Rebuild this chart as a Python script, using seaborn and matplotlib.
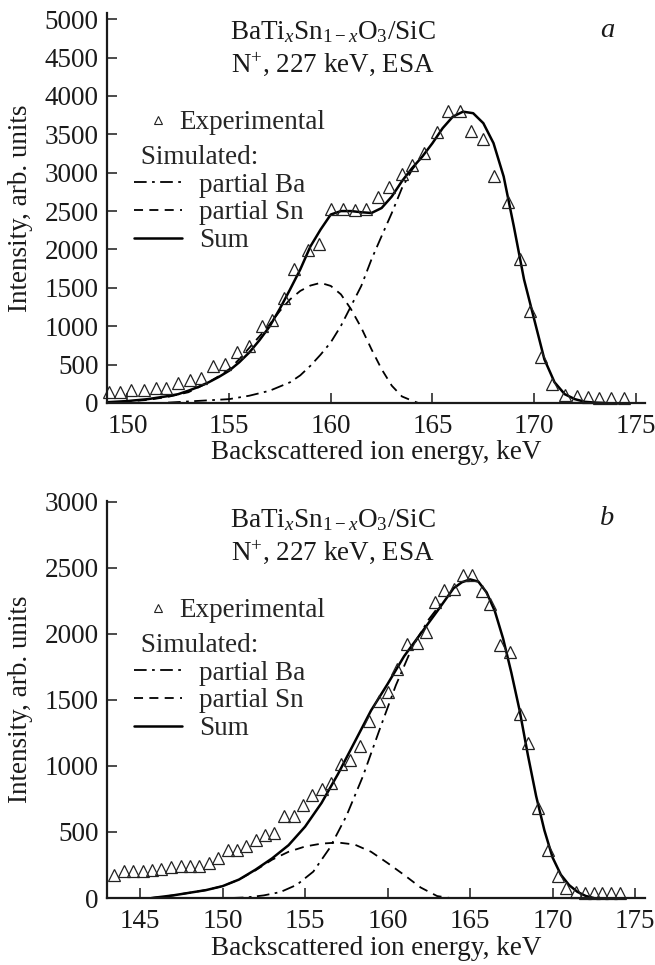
import numpy as np
import pandas as pd
import matplotlib
matplotlib.use("Agg")
import matplotlib.pyplot as plt
import seaborn as sns
from matplotlib.lines import Line2D

# ---- panel a: experimental points ----
exp_a_x = [149.1, 149.65, 150.2, 150.8, 151.4, 151.9, 152.5, 153.1, 153.6, 154.2,
           154.8, 155.4, 156.0, 156.6, 157.1, 157.7, 158.2, 158.9, 159.4, 160.0,
           160.6, 161.2, 161.75, 162.3, 162.85, 163.5, 164.0, 164.6, 165.2, 165.75,
           166.35, 166.9, 167.5, 168.0, 168.7, 169.3, 169.8, 170.35, 170.9, 171.5,
           172.1, 172.65, 173.2, 173.8, 174.4]
exp_a_y = [147, 139, 165, 173, 199, 199, 255, 303, 320, 485,
           506, 667, 745, 1004, 1082, 1372, 1749, 1991, 2065, 2528,
           2528, 2511, 2528, 2684, 2810, 2987, 3104, 3255, 3524, 3805,
           3805, 3537, 3437, 2952, 2615, 1870, 1199, 602, 247, 104,
           87, 74, 65, 65, 65]

# ---- panel a: simulated curves ----
sum_a_x = [149, 150, 151, 152, 152.5, 153, 153.5, 154, 154.5, 155, 155.5, 156, 156.5,
           157, 157.5, 158, 158.5, 159, 159.5, 160, 160.5, 161, 161.5, 162, 162.5,
           163, 163.5, 164, 164.5, 165, 165.5, 166, 166.5, 167, 167.5, 168, 168.5,
           169, 169.5, 170, 170.5, 171, 171.5, 172, 172.5, 173, 173.5]
sum_a_y = [10, 25, 50, 90, 115, 160, 210, 270, 340, 420, 530, 660, 820,
           1000, 1230, 1480, 1740, 2040, 2260, 2455, 2500, 2500, 2485, 2475, 2540,
           2690, 2890, 3060, 3210, 3385, 3580, 3730, 3795, 3775, 3645, 3385, 2950,
           2300, 1610, 1090, 570, 270, 115, 50, 15, 5, 0]

ba_a_x = [152, 153, 154, 155, 156, 157, 158, 158.5, 159, 159.5, 160, 160.5, 161,
          161.5, 162, 162.5, 163, 163.5, 164, 164.4]
ba_a_y = [5, 20, 35, 50, 95, 160, 270, 360, 485, 630, 790, 1005, 1265,
          1525, 1870, 2175, 2475, 2800, 3040, 3180]

sn_a_x = [149, 150, 151, 152, 153, 154, 154.5, 155, 155.5, 156, 156.5, 157, 157.5,
          158, 158.5, 159, 159.5, 160, 160.5, 161, 161.5, 162, 162.5, 163, 163.5,
          164, 164.3]
sn_a_y = [5, 20, 40, 80, 140, 270, 350, 440, 570, 720, 870, 1025, 1200,
          1350, 1460, 1530, 1565, 1525, 1415, 1220, 980, 700, 440, 225, 85,
          30, 0]

# ---- panel b: experimental points ----
exp_b_x = [143.4, 144.0, 144.55, 145.15, 145.7, 146.3, 146.9, 147.5, 148.0, 148.6,
           149.2, 149.7, 150.3, 150.85, 151.4, 152.0, 152.6, 153.1, 153.7, 154.3,
           154.9, 155.4, 156.0, 156.6, 157.2, 157.7, 158.3, 158.9, 159.45, 160.0,
           160.6, 161.2, 161.8, 162.3, 162.9, 163.4, 164.0, 164.55, 165.1, 165.7,
           166.2, 166.8, 167.4, 168.0, 168.5, 169.1, 169.7, 170.3, 170.8, 171.4,
           171.95, 172.5, 173.0, 173.55, 174.1]
exp_b_y = [176, 202, 207, 207, 215, 223, 233, 241, 241, 241,
           267, 306, 363, 363, 394, 440, 479, 495, 624, 624,
           702, 780, 824, 870, 1016, 1044, 1148, 1337, 1490, 1557,
           1730, 1920, 1933, 2016, 2241, 2334, 2339, 2448, 2448, 2321,
           2223, 1912, 1860, 1394, 1174, 681, 363, 168, 78, 45,
           40, 40, 40, 40, 40]

# ---- panel b: simulated curves ----
sum_b_x = [145.7, 147, 148, 149, 150, 151, 152, 153, 154, 155, 156, 157, 158, 159,
           160, 161, 162, 163, 164, 164.5, 165, 165.5, 166, 166.5, 167, 167.5,
           168, 168.5, 169, 169.5, 170, 170.5, 171, 171.5, 172, 172.5]
sum_b_y = [0, 20, 40, 60, 90, 140, 215, 300, 400, 540, 720, 940, 1180, 1420,
           1620, 1830, 2000, 2170, 2345, 2390, 2412, 2395, 2313, 2171, 1964, 1705,
           1420, 1083, 772, 513, 306, 176, 98, 47, 16, 0]

ba_b_x = [150.5, 151.5, 152.5, 153.5, 154.5, 155.5, 156.5, 157.5, 158.5, 159.5,
          160.5, 161.5, 162.5, 163.3]
ba_b_y = [0, 5, 20, 45, 100, 200, 380, 620, 920, 1270,
          1610, 1900, 2110, 2240]

sn_b_x = [145.7, 147, 148, 149, 150, 151, 152, 153, 154, 155, 156, 157, 158,
          159, 160, 161, 162, 163, 163.8]
sn_b_y = [0, 20, 40, 60, 90, 140, 210, 290, 350, 390, 412, 420, 405,
          350, 265, 175, 80, 15, 0]

panels = [
    dict(exp=(exp_a_x, exp_a_y), sum=(sum_a_x, sum_a_y), ba=(ba_a_x, ba_a_y),
         sn=(sn_a_x, sn_a_y), xlim=(149, 175.45), ylim=(0, 5080),
         xticks=[150, 155, 160, 165, 170, 175], yticks=list(range(0, 5001, 500)),
         letter="a"),
    dict(exp=(exp_b_x, exp_b_y), sum=(sum_b_x, sum_b_y), ba=(ba_b_x, ba_b_y),
         sn=(sn_b_x, sn_b_y), xlim=(143, 175.6), ylim=(0, 3005),
         xticks=[145, 150, 155, 160, 165, 170, 175], yticks=list(range(0, 3001, 500)),
         letter="b"),
]

FS = 19.5
INK = "#1a1a1a"

sns.set_theme(style="ticks")
plt.rcParams["font.family"] = ["Liberation Serif", "DejaVu Serif"]
plt.rcParams["mathtext.fontset"] = "custom"
plt.rcParams["mathtext.rm"] = "Liberation Serif"
plt.rcParams["mathtext.it"] = "Liberation Serif:italic"
plt.rcParams["font.size"] = FS

fig = plt.figure(figsize=(6.55, 9.65), dpi=100)
ax_a = fig.add_axes([0.1634, 0.5824, 0.8214, 0.4041])
ax_b = fig.add_axes([0.1634, 0.0694, 0.8214, 0.4114])

dashdot = (0, (7, 3, 1.5, 3))
dashed = (0, (5, 3.5))

for ax, p in zip([ax_a, ax_b], panels):
    sns.lineplot(x=p["sn"][0], y=p["sn"][1], ax=ax, color="black", lw=1.3,
                 linestyle=dashed, sort=False, estimator=None)
    sns.lineplot(x=p["ba"][0], y=p["ba"][1], ax=ax, color="black", lw=1.3,
                 linestyle=dashdot, sort=False, estimator=None)
    sns.lineplot(x=p["sum"][0], y=p["sum"][1], ax=ax, color="black", lw=1.8,
                 sort=False, estimator=None)
    ax.plot(p["exp"][0], p["exp"][1], linestyle="none", marker="^", ms=8.5,
            mfc="none", mec="#222222", mew=0.9, clip_on=False)

    ax.set_xlim(*p["xlim"])
    ax.set_ylim(*p["ylim"])
    ax.set_xticks(p["xticks"])
    ax.set_yticks(p["yticks"])
    ax.tick_params(direction="in", length=7, width=1.1, labelsize=FS,
                   colors=INK, pad=6)
    ax.tick_params(axis="x", pad=8)
    for s in ["top", "right"]:
        ax.spines[s].set_visible(False)
    for s in ["left", "bottom"]:
        ax.spines[s].set_linewidth(1.6)
        ax.spines[s].set_color(INK)

    ax.set_xlabel("Backscattered ion energy, keV", fontsize=FS, color=INK)
    ax.set_ylabel("Intensity, arb. units", fontsize=FS, color=INK)
    ax.yaxis.set_label_coords(-0.138, 0.5)
    ax.xaxis.labelpad = 1

    ax.annotate(r"BaTi$_{x}$Sn$_{1-x}$O$_{3}$/SiC", xy=(0.42, 1), xycoords="axes fraction",
                xytext=(0, -19), textcoords="offset pixels", ha="center", va="center",
                fontsize=FS, color=INK)
    ax.annotate(r"N$^{+}$, 227 keV, ESA", xy=(0.42, 1), xycoords="axes fraction",
                xytext=(0, -51), textcoords="offset pixels", ha="center", va="center",
                fontsize=FS, color=INK)
    ax.annotate(p["letter"], xy=(0.93, 1), xycoords="axes fraction",
                xytext=(0, -17), textcoords="offset pixels", ha="center", va="center",
                fontsize=FS + 1, style="italic", color=INK)

    h_px = ax.get_position().height * fig.get_figheight() * fig.dpi
    w_px = ax.get_position().width * fig.get_figwidth() * fig.dpi

    exp_handle = Line2D([], [], linestyle="none", marker="^", ms=5.5, mfc="none",
                        mec="#222222", mew=0.8)
    leg1 = ax.legend([exp_handle], ["Experimental"], loc="upper left",
                     bbox_to_anchor=(37 / w_px, 1 - 97 / h_px), frameon=False,
                     borderpad=0, borderaxespad=0, handlelength=1.0,
                     handletextpad=0.32, fontsize=FS)
    ax.add_artist(leg1)

    line_handles = [Line2D([], [], color="black", lw=1.3, linestyle=dashdot),
                    Line2D([], [], color="black", lw=1.3, linestyle=dashed),
                    Line2D([], [], color="black", lw=1.8)]
    ax.legend(line_handles, ["partial Ba", "partial Sn", "Sum"], loc="upper left",
              bbox_to_anchor=(27 / w_px, 1 - 132 / h_px), frameon=False,
              borderpad=0, borderaxespad=0, handlelength=1.78, handletextpad=0.63,
              labelspacing=0.1, fontsize=FS, title=" Simulated:",
              title_fontsize=FS, alignment="left")

fig.savefig("out.png", dpi=100)
